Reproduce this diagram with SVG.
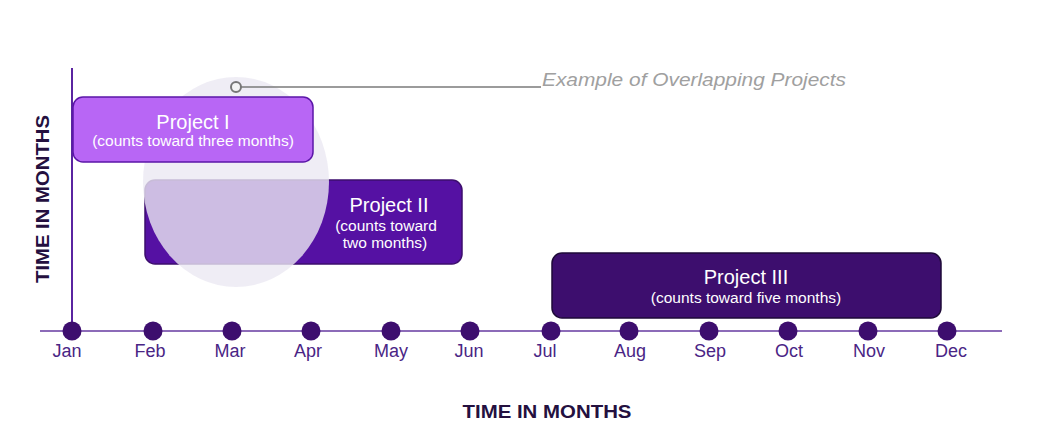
<svg xmlns="http://www.w3.org/2000/svg" width="1046" height="441" viewBox="0 0 1046 441">
<style>
text{font-family:"Liberation Sans",Arial,sans-serif}
.ttl{font-size:20px;fill:#ffffff;text-anchor:middle}
.sub{font-size:15.5px;fill:#ffffff;text-anchor:middle}
.mon{font-size:18px;fill:#4a2585;text-anchor:middle}
.axl{font-size:18px;font-weight:bold;fill:#24103f;text-anchor:middle}
.dot{fill:#3d0e6e}
</style>
<rect width="1046" height="441" fill="#ffffff"/>
<g id="axes">
<line x1="40" y1="331" x2="1002" y2="331" stroke="#8c6bb8" stroke-width="2"/>
<line x1="72" y1="68" x2="72" y2="331" stroke="#5a24a0" stroke-width="2"/>
</g>
<g id="project2">
<rect x="145" y="180" width="317" height="84" rx="10" fill="#5511a3" stroke="#3d0e6e" stroke-width="1.5"/>
<text class="ttl" x="389" y="212">Project II</text>
<text class="sub" x="386" y="231">(counts toward</text>
<text class="sub" x="385" y="248">two months)</text>
</g>
<g id="overlap">
<ellipse cx="236" cy="182" rx="93" ry="105" fill="#ebe8f2" fill-opacity="0.8"/>
</g>
<g id="project1">
<rect x="73" y="97" width="240" height="65" rx="10" fill="#b866f5" stroke="#5b16a8" stroke-width="1.5"/>
<text class="ttl" x="193" y="129">Project I</text>
<text class="sub" x="193" y="146">(counts toward three months)</text>
</g>
<g id="project3">
<rect x="552" y="253" width="389" height="65" rx="10" fill="#3d0e6e" stroke="#1e0a38" stroke-width="1.5"/>
<text class="ttl" x="746" y="284">Project III</text>
<text class="sub" x="746" y="303">(counts toward five months)</text>
</g>
<g id="connectors">
<line x1="241" y1="87" x2="541" y2="87" stroke="#7a7a7a" stroke-width="1.5"/>
<circle cx="236" cy="87" r="5" fill="#f4f4f4" stroke="#777777" stroke-width="2"/>
</g>
<g id="callout">
<text x="542" y="86" font-size="18" font-style="italic" fill="#a0a0a0" textLength="304" lengthAdjust="spacingAndGlyphs">Example of Overlapping Projects</text>
</g>
<g id="months">
<circle class="dot" cx="72" cy="331" r="9.5"/>
<circle class="dot" cx="153" cy="331" r="9.5"/>
<circle class="dot" cx="232" cy="331" r="9.5"/>
<circle class="dot" cx="311" cy="331" r="9.5"/>
<circle class="dot" cx="391" cy="331" r="9.5"/>
<circle class="dot" cx="470" cy="331" r="9.5"/>
<circle class="dot" cx="551" cy="331" r="9.5"/>
<circle class="dot" cx="629" cy="331" r="9.5"/>
<circle class="dot" cx="709" cy="331" r="9.5"/>
<circle class="dot" cx="788" cy="331" r="9.5"/>
<circle class="dot" cx="868" cy="331" r="9.5"/>
<circle class="dot" cx="947" cy="331" r="9.5"/>
<text class="mon" x="67" y="357">Jan</text>
<text class="mon" x="150" y="357">Feb</text>
<text class="mon" x="230" y="357">Mar</text>
<text class="mon" x="308" y="357">Apr</text>
<text class="mon" x="391" y="357">May</text>
<text class="mon" x="469" y="357">Jun</text>
<text class="mon" x="545" y="357">Jul</text>
<text class="mon" x="630" y="357">Aug</text>
<text class="mon" x="710" y="357">Sep</text>
<text class="mon" x="789" y="357">Oct</text>
<text class="mon" x="869" y="357">Nov</text>
<text class="mon" x="951" y="357">Dec</text>
</g>
<g id="labels">
<text class="axl" x="547" y="418" textLength="169" lengthAdjust="spacingAndGlyphs">TIME IN MONTHS</text>
<text class="axl" x="0" y="0" transform="translate(49 199) rotate(-90)" textLength="168" lengthAdjust="spacingAndGlyphs">TIME IN MONTHS</text>
</g>
</svg>
